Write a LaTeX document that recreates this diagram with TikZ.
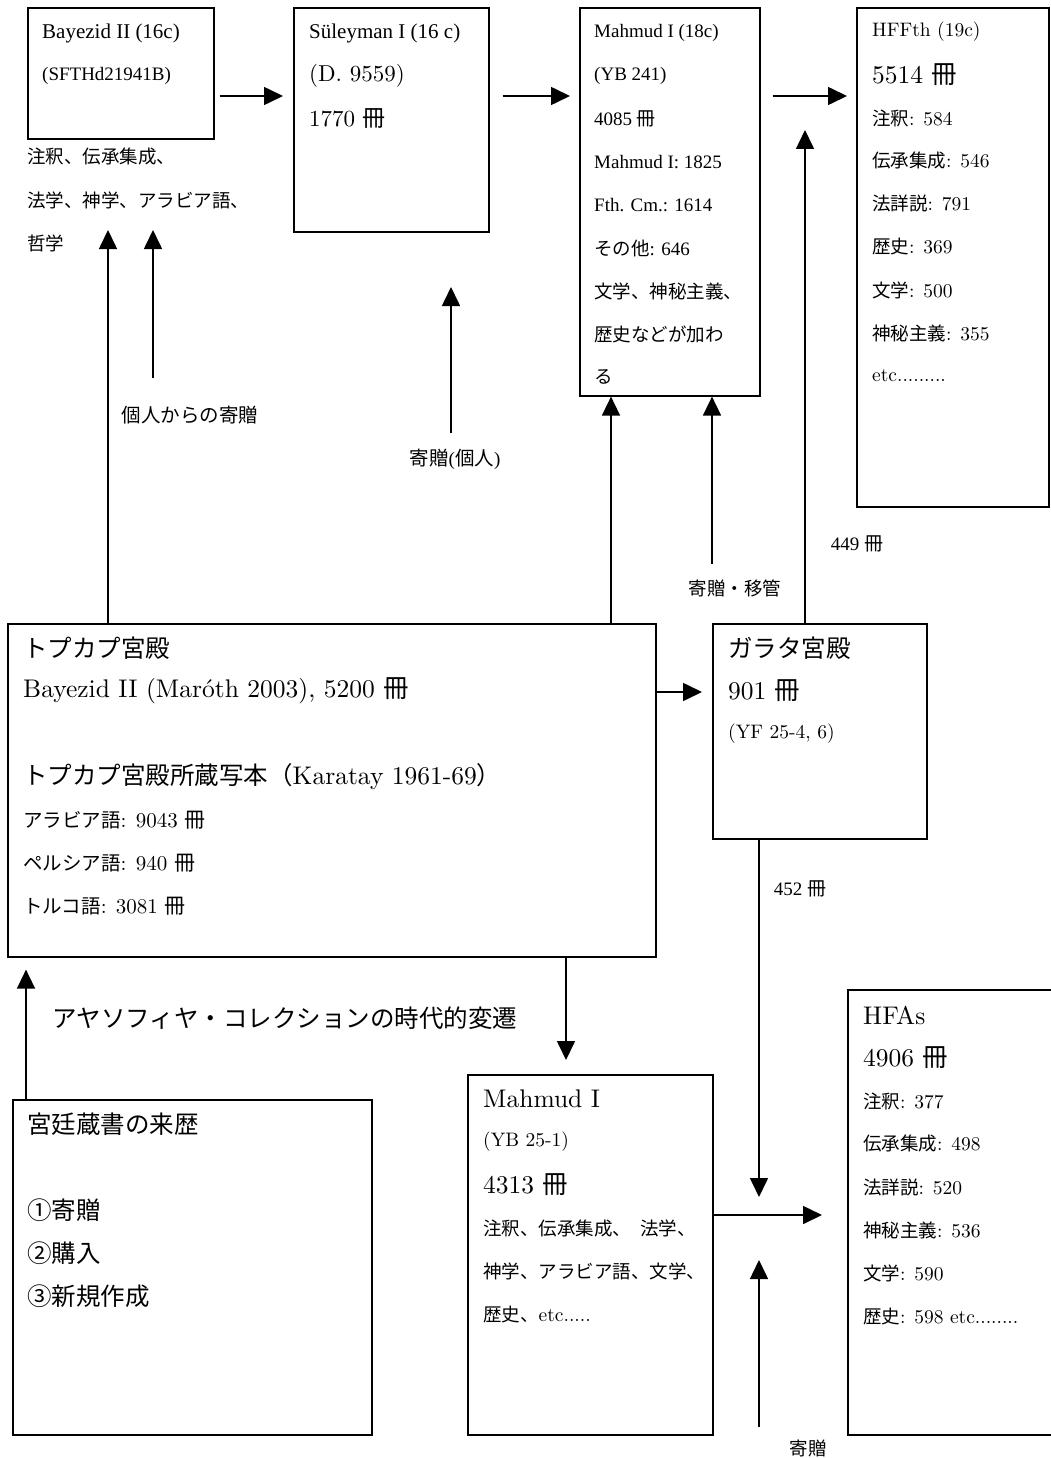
\documentclass[tikz,border=0pt]{standalone}
\usepackage{fontspec}
\newfontfamily\tms{Liberation Serif}
\newfontfamily\jp{Noto Sans CJK JP}
\newfontfamily\lmr{lmroman10-regular}[Extension=.otf]
\usetikzlibrary{arrows.meta}
\newcommand\fTa{\tms\fontsize{21}{21}\selectfont}
\newcommand\fTb{\tms\fontsize{19}{19}\selectfont}
\newcommand\fLa{\lmr\fontsize{25.5}{25.5}\selectfont}
\newcommand\fLm{\lmr\fontsize{23}{23}\selectfont}
\newcommand\fLb{\lmr\fontsize{19.5}{19.5}\selectfont}
\newcommand\fLc{\lmr\fontsize{21}{21}\selectfont}
\newcommand\fJa{\jp\fontsize{24.5}{24.5}\selectfont}
\newcommand\fJb{\jp\fontsize{18.5}{18.5}\selectfont}
\newcommand\fJc{\jp\fontsize{19.5}{19.5}\selectfont}
\newcommand\etcNine{etc.........}
\newcommand\etcEight{etc........}
\newcommand\etcFive{etc.....}
\newcommand\blines[4]{\foreach \t [count=\i from 0] in {#4} {\node[txt] (#1-\i) at (#2,{#3+43*\i}) {\t};}}
\tikzset{
  box/.style={draw, line width=1.6pt, anchor=north west, inner sep=0pt},
  txt/.style={anchor=west, inner sep=0pt},
  lbl/.style={inner sep=0pt},
  arr/.style={line width=1.6pt, -{Triangle[length=19pt,width=18pt]}},
}
\begin{document}
\begin{tikzpicture}[x=1pt,y=-1pt]
\path[fill=white] (0,0) rectangle (1050,1458);
\useasboundingbox (0,0) rectangle (1050,1458);
% boxes
\node[box, minimum width=186pt, minimum height=131pt] (bay) at (27,7) {};
\node[box, minimum width=195pt, minimum height=224pt] (sul) at (293,7) {};
\node[box, minimum width=180pt, minimum height=388pt] (mah18) at (579,7) {};
\node[box, minimum width=192pt, minimum height=499pt] (hff) at (856,7) {};
\node[box, minimum width=648pt, minimum height=333pt] (top) at (7,623) {};
\node[box, minimum width=214pt, minimum height=215pt] (gal) at (712,623) {};
\node[box, minimum width=359pt, minimum height=335pt] (kyu) at (12,1099) {};
\node[box, minimum width=245pt, minimum height=360pt] (mah1) at (467,1074) {};
\node[box, minimum width=215pt, minimum height=445pt] (hfa) at (847,989) {};
% texts
\blines{bt}{42}{33}{{\fTa Bayezid II (16c)},{\fTb (SFTHd21941B)}}
\blines{bx}{27}{157}{{\fJb 注釈、伝承集成、},{\fJb 法学、神学、アラビア語、},{\fJb 哲学}}
\blines{st}{309}{33}{{\fTa Süleyman I (16 c)},{\fLm (D. 9559)},{\fLm 1770 {\jp 冊}}}
\blines{mt}{594}{33}{{\fTb Mahmud I (18c)},{\fTb (YB 241)},{\fTb 4085 {\jp 冊}},{\fTb Mahmud I: 1825},{\fTb Fth. Cm.: 1614},{{\fJb その他}\fTb : 646},{\fJb 文学、神秘主義、},{\fJb 歴史などが加わ},{\fJb る}}
\blines{ht}{872}{32}{{\fLb HFFth (19c)},{\fLa 5514 {\jp 冊}},{{\fJb 注釈}\fLb : 584},{{\fJb 伝承集成}\fLb : 546},{{\fJb 法詳説}\fLb : 791},{{\fJb 歴史}\fLb : 369},{{\fJb 文学}\fLb : 500},{{\fJb 神秘主義}\fLb : 355},{\fLb \etcNine}}
\blines{tt}{23}{648}{{\fJa トプカプ宮殿},{\fLa Bayezid II (Maróth 2003), 5200 {\jp 冊}},{},{{\fJa トプカプ宮殿所蔵写本（}\fLa Karatay 1961-69{\fJa ）}},{{\fJc アラビア語}\fLc : 9043 {\jp 冊}},{{\fJc ペルシア語}\fLc : 940 {\jp 冊}},{{\fJc トルコ語}\fLc : 3081 {\jp 冊}}}
\blines{gt}{728}{648}{{\fJa ガラタ宮殿},{\fLa 901 {\jp 冊}},{\fLb (YF 25-4, 6)}}
\blines{kt}{27}{1124}{{\fJa 宮廷蔵書の来歴},{},{\fJa ①寄贈},{\fJa ②購入},{\fJa ③新規作成}}
\blines{m1t}{483}{1099}{{\fLa Mahmud I},{\fLb (YB 25-1)},{\fLa 4313 {\jp 冊}},{\fJb 注釈、伝承集成、\hspace{9pt}法学、},{\fJb 神学、アラビア語、文学、},{{\fJb 歴史、}\fLb \etcFive}}
\blines{at}{863}{1015}{{\fLa HFAs},{\fLa 4906 {\jp 冊}},{{\fJb 注釈}\fLb : 377},{{\fJb 伝承集成}\fLb : 498},{{\fJb 法詳説}\fLb : 520},{{\fJb 神秘主義}\fLb : 536},{{\fJb 文学}\fLb : 590},{{\fJb 歴史}\fLb : 598 \etcEight}}
\node[lbl, anchor=west] (title) at (52,1018) {\fJa アヤソフィヤ・コレクションの時代的変遷};
% labels
\node[lbl] (l1) at (190,415) {\fJc 個人からの寄贈};
\node[lbl] (l2) at (455,459) {{\fJc 寄贈}\fTb ({\fJc 個人})};
\node[lbl] (l3) at (735,588) {\fJb 寄贈・移管};
\node[lbl] (l4) at (857,544) {\fTb 449 {\jp 冊}};
\node[lbl] (l5) at (800,889) {\fTb 452 {\jp 冊}};
\node[lbl] (l6) at (808,1448) {\fJb 寄贈};
% helper coordinates
\coordinate (r96) at (0,96);
\coordinate (r692) at (0,692);
\coordinate (r1215) at (0,1215);
\coordinate (t108) at (108,230);
\coordinate (t153) at (153,230);
\coordinate (t451) at (451,287);
\coordinate (x611) at (611,0);
\coordinate (x712) at (712,0);
\coordinate (t805) at (805,130);
\coordinate (t759) at (759,1197);
\coordinate (x566) at (566,0);
\coordinate (x26) at (26,0);
\coordinate (s759) at (759,1427);
\coordinate (u759) at (759,1260);
% connectors
\draw[arr, shorten <=5pt, shorten >=10pt] (bay.east |- r96) -- (sul.west |- r96);
\draw[arr, shorten <=13pt, shorten >=9pt] (sul.east |- r96) -- (mah18.west |- r96);
\draw[arr, shorten <=12pt, shorten >=9pt] (mah18.east |- r96) -- (hff.west |- r96);
\draw[arr] (top.north -| t108) -- (t108);
\draw[arr, shorten <=28pt] (l1.north -| t153) -- (t153);
\draw[arr, shorten <=16pt] (l2.north -| t451) -- (t451);
\draw[arr] (top.north -| x611) -- (mah18.south -| x611);
\draw[arr, shorten <=15pt] (l3.north -| x712) -- (mah18.south -| x712);
\draw[arr] (gal.north -| t805) -- (t805);
\draw[arr, shorten >=10pt] (top.east |- r692) -- (gal.west |- r692);
\draw[arr] (gal.south -| t759) -- (t759);
\draw[arr, shorten >=14pt] (top.south -| x566) -- (mah1.north -| x566);
\draw[arr, shorten >=12pt] (kyu.north -| x26) -- (top.south -| x26);
\draw[arr, shorten >=25pt] (mah1.east |- r1215) -- (hfa.west |- r1215);
\draw[arr] (s759) -- (u759);
\end{tikzpicture}
\end{document}
